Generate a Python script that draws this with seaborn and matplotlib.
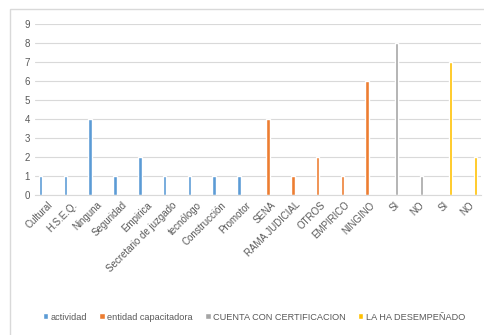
import matplotlib
matplotlib.use("Agg")
import matplotlib.pyplot as plt
import pandas as pd
import seaborn as sns
from matplotlib.patches import Rectangle

# datos
categorias = ["Cultural", "H.S.E.Q.", "Ninguna", "Seguridad", "Empirica",
              "Secretario de juzgado", "tecnólogo", "Construcción", "Promotor",
              "SENA", "RAMA JUDICIAL", "OTROS", "EMPIRICO", "NINGINO",
              "SI", "NO", "SI ", "NO "]
actividad = [1, 1, 4, 1, 2, 1, 1, 1, 1, 0, 0, 0, 0, 0, 0, 0, 0, 0]
entidad = [0, 0, 0, 0, 0, 0, 0, 0, 0, 4, 1, 2, 1, 6, 0, 0, 0, 0]
certificacion = [0] * 14 + [8, 1, 0, 0]
desempenado = [0] * 16 + [7, 2]

series = ["actividad", "entidad capacitadora", "CUENTA CON CERTIFICACION", "LA HA DESEMPEÑADO"]
colores = ["#5b9bd5", "#ed7d31", "#a5a5a5", "#ffc000"]

filas = []
for nombre, valores in zip(series, [actividad, entidad, certificacion, desempenado]):
    for cat, v in zip(categorias, valores):
        filas.append({"categoria": cat, "serie": nombre, "valor": v})
df = pd.DataFrame(filas)

sns.set_style("white")
plt.rcParams["font.family"] = ["Liberation Sans", "DejaVu Sans"]

fig = plt.figure(figsize=(4.84, 3.35), dpi=100)
fig.patches.append(Rectangle((10 / 484, -0.1), 1.2, 1 - 9 / 335 + 0.1,
                             transform=fig.transFigure, fill=False,
                             edgecolor="#d9d9d9", linewidth=1))
ax = fig.add_axes([35 / 484, 1 - 195 / 335, 446 / 484, 171 / 335])

sns.barplot(data=df, x="categoria", y="valor", hue="serie", order=categorias,
            hue_order=series, palette=colores, width=0.72, gap=0.2,
            dodge=True, ax=ax, errorbar=None, saturation=1, legend=True)

ax.set_ylim(0, 9)
ax.set_xlim(-0.5, len(categorias) - 0.5)
ax.set_yticks(range(10))
ax.yaxis.grid(True, color="#d9d9d9", linewidth=0.8)
ax.set_axisbelow(True)
for s in ["top", "right", "left"]:
    ax.spines[s].set_visible(False)
ax.spines["bottom"].set_color("#d9d9d9")
ax.tick_params(length=0, colors="#595959", labelsize=7)
ax.set_xlabel("")
ax.set_ylabel("")
ax.set_xticks(range(len(categorias)))
ax.set_xticklabels([c.strip() for c in categorias], rotation=45,
                   ha="right", rotation_mode="anchor", fontsize=7, color="#595959")

handles, labels = ax.get_legend_handles_labels()
ax.legend_.remove()
fig.legend(handles, labels, loc="center", bbox_to_anchor=(254 / 484, 1 - 317 / 335),
           ncol=4, frameon=False, fontsize=6.6, handlelength=0.6, handleheight=0.6,
           handletextpad=0.3, columnspacing=1.3, labelcolor="#595959")

fig.savefig("out.png", dpi=100)
